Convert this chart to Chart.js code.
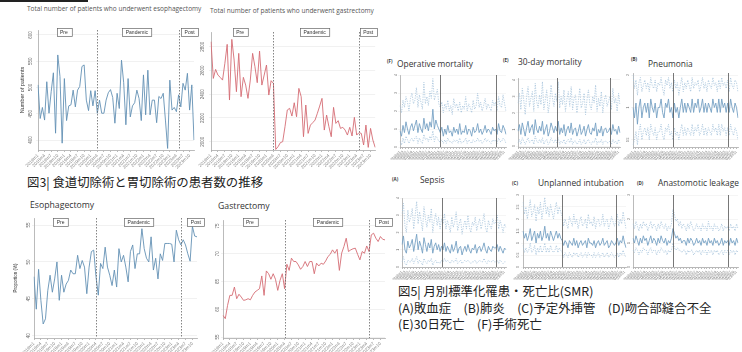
<!DOCTYPE html>
<html><head><meta charset="utf-8">
<script src="https://cdn.jsdelivr.net/npm/chart.js@4.4.1/dist/chart.umd.min.js"></script>
<style>
html,body{margin:0;padding:0;background:#fff;}
body{width:742px;height:352px;position:relative;overflow:hidden;font-family:"Open Sans","Noto Sans",sans-serif;}
.t{position:absolute;white-space:nowrap;color:#444;line-height:1;}
.cap{position:absolute;white-space:nowrap;color:#222;font-family:"Noto Sans CJK JP",sans-serif;}
.pn{position:absolute;}
canvas{display:block;}
</style></head><body>
<div style="position:absolute;left:0;top:0;width:88px;height:2px;background:#222"></div>
<div class="t" style="left:27px;top:6px;font-size:6.5px;color:#555">Total number of patients who underwent esophagectomy</div>
<div class="t" style="left:210px;top:8px;font-size:6.5px;color:#555">Total number of patients who underwent gastrectomy</div>
<div class="cap" style="left:27px;top:174px;font-size:12.4px;line-height:16px">図3| 食道切除術と胃切除術の患者数の推移</div>
<div class="t" style="left:30px;top:201px;font-size:8.7px;color:#333">Esophagectomy</div>
<div class="t" style="left:218px;top:202px;font-size:8.7px;color:#333">Gastrectomy</div>

<div class="t" style="left:387px;top:59px;font-size:4.5px;font-weight:bold;color:#333">(F)</div>
<div class="t" style="left:397px;top:60px;font-size:8.4px;color:#333">Operative mortality</div>
<div class="t" style="left:503px;top:58px;font-size:4.5px;font-weight:bold;color:#333">(E)</div>
<div class="t" style="left:518px;top:58px;font-size:8.4px;color:#333">30-day mortality</div>
<div class="t" style="left:631px;top:57px;font-size:4.5px;font-weight:bold;color:#333">(B)</div>
<div class="t" style="left:648px;top:60px;font-size:8.4px;color:#333">Pneumonia</div>
<div class="t" style="left:392px;top:177px;font-size:4.5px;font-weight:bold;color:#333">(A)</div>
<div class="t" style="left:420px;top:176px;font-size:8.4px;color:#333">Sepsis</div>
<div class="t" style="left:512px;top:181px;font-size:4.5px;font-weight:bold;color:#333">(C)</div>
<div class="t" style="left:538px;top:179px;font-size:8.4px;color:#333">Unplanned intubation</div>
<div class="t" style="left:637px;top:181px;font-size:4.5px;font-weight:bold;color:#333">(D)</div>
<div class="t" style="left:658px;top:179px;font-size:8.4px;color:#333">Anastomotic leakage</div>

<div class="cap" style="left:398px;top:283px;font-size:12.4px;line-height:16.5px">図5| 月別標準化罹患・死亡比(SMR)<br>(A)敗血症　(B)肺炎　(C)予定外挿管　(D)吻合部縫合不全<br>(E)30日死亡　(F)手術死亡</div>

<script>
// Monthly categories, January 2018 to December 2023
const years = [2018, 2019, 2020, 2021, 2022, 2023];
const months = [];
years.forEach(y => { for (let m = 1; m <= 12; m++) months.push(y + 'm' + m); });

// Period boundaries (category index where a new period starts)
const periodStarts = [27, 64];
const periodNames = ['Pre', 'Pandemic', 'Post'];

// Monthly number of patients
const esoCount = [
  505,441,462,438,511,451,492,528,413,562,
  521,394,517,437,465,467,495,463,495,502,
  540,543,476,456,494,465,494,451,476,451,
  451,476,490,496,481,432,489,460,552,509,
  429,517,444,465,471,495,479,437,524,448,
  533,448,476,476,433,483,479,489,438,384,
  514,457,462,454,486,463,508,495,527,457,
  505,400];
const gasCount = [
  2842,2533,2609,2561,2542,2519,2660,2820,2351,2862,
  2688,2421,2744,2379,2542,2477,2365,2519,2744,2632,
  2497,2763,2477,2561,2646,2393,2514,2491,1935,1958,
  1992,2000,2126,2267,2281,2216,2328,2210,2449,2379,
  2042,2309,2070,2140,2160,2182,2239,2300,2365,2098,
  2224,2126,2042,2289,2154,2177,2112,2121,2098,2056,
  2121,2048,2205,2056,2076,2070,1972,2140,1952,2112,
  2014,1952];

// Monthly proportion (%)
const esoProp = [
  48.0,43.6,49.0,44.8,41.6,42.3,46.1,48.2,45.9,47.7,
  50.0,44.8,48.2,45.9,47.0,47.5,48.9,48.4,48.4,50.9,
  49.1,50.2,49.3,45.7,49.3,51.4,51.6,48.0,45.5,49.8,
  49.1,52.0,49.3,48.2,46.8,48.9,46.6,51.8,50.0,50.9,
  49.3,47.3,51.4,52.3,49.1,51.1,51.1,54.5,51.8,50.5,
  50.0,53.4,48.9,50.5,47.7,51.1,50.2,52.5,52.5,52.5,
  52.4,50.0,54.3,53.0,52.3,53.0,52.3,51.1,50.1,54.8,
  53.5,53.4];
const gasProp = [
  58.9,58.3,60.7,62.5,62.5,64.0,61.9,62.7,62.2,61.6,
  61.7,61.9,61.7,62.5,63.1,63.4,63.7,66.0,62.5,66.9,
  66.4,65.4,66.4,65.4,63.4,65.2,66.4,63.7,68.1,67.0,
  69.2,68.6,68.6,68.0,67.2,67.7,68.6,67.7,68.6,68.6,
  66.4,68.3,67.8,68.3,68.1,68.7,69.5,69.9,70.7,70.1,
  70.8,67.0,70.1,71.3,72.8,70.4,70.7,70.9,71.0,69.9,
  68.9,70.4,70.1,71.4,70.4,73.4,73.7,72.8,72.2,73.1,
  72.6,72.5];

// Monthly SMR with upper / lower confidence limits
const opMortHi = [
  2.3,1.9,2.6,2.2,2.8,2.5,2.0,2.7,3.0,
  2.4,2.6,3.3,2.2,2.9,2.5,2.1,3.6,2.4,
  2.8,2.3,3.1,2.7,3.8,2.6,2.9,3.2,2.4,
  2.2,2.5,1.9,2.4,2.1,2.6,2.0,2.3,1.8,
  2.7,2.2,2.4,2.0,2.5,1.9,2.3,2.1,2.8,
  2.0,2.4,2.2,1.9,2.6,2.1,2.3,3.0,2.2,
  2.5,2.0,2.3,2.7,2.1,2.4,2.2,2.0,2.6,
  2.3,2.5,2.0,2.8,2.3,2.2,2.9,2.4,2.0];
const opMort = [
  0.9,0.6,1.2,0.8,1.4,1.0,0.7,1.1,1.3,
  0.9,1.2,1.5,0.8,1.3,1.0,0.8,1.6,1.0,
  1.3,0.9,1.4,1.1,2.1,1.0,1.5,1.2,1.0,
  0.8,1.1,0.6,1.0,0.7,1.2,0.8,0.9,0.6,
  1.1,0.8,1.0,0.7,1.3,0.7,0.9,0.8,1.2,
  0.7,1.0,0.9,0.6,1.1,0.8,0.9,1.3,0.8,
  1.0,0.7,0.9,1.2,0.8,1.0,0.9,0.7,1.1,
  0.9,1.0,0.7,1.3,0.9,0.8,1.2,1.0,0.7];
const opMortLo = [
  0.3,0.1,0.5,0.2,0.6,0.4,0.2,0.4,0.5,
  0.3,0.5,0.6,0.2,0.5,0.3,0.2,0.7,0.4,
  0.5,0.3,0.6,0.4,0.9,0.3,0.6,0.5,0.3,
  0.3,0.4,0.2,0.4,0.2,0.5,0.3,0.3,0.2,
  0.4,0.3,0.4,0.2,0.5,0.2,0.3,0.3,0.5,
  0.2,0.4,0.3,0.2,0.4,0.3,0.3,0.5,0.3,
  0.4,0.2,0.3,0.5,0.3,0.4,0.3,0.2,0.4,
  0.3,0.4,0.2,0.5,0.3,0.3,0.5,0.4,0.2];

const dayMortHi = [
  2.6,3.2,2.2,3.5,2.8,1.9,3.0,3.6,2.4,
  2.9,3.3,2.1,3.8,2.7,2.3,3.1,2.5,3.9,
  2.2,2.8,3.4,2.0,2.6,3.7,2.9,2.4,3.2,
  2.7,3.9,2.3,3.0,2.5,3.4,2.1,2.8,3.3,
  2.4,3.6,2.2,2.9,3.1,2.0,2.7,3.5,2.3,
  2.6,3.2,1.9,2.8,3.4,2.5,2.2,3.0,2.6,
  3.7,2.1,2.9,2.4,3.3,2.0,2.8,3.1,2.4,
  2.7,3.0,2.2,3.5,2.6,2.9,2.1,3.2,2.5];
const dayMort = [
  0.9,1.3,0.7,1.4,1.0,0.6,1.1,1.5,0.8,
  1.1,1.3,0.7,1.6,1.0,0.8,1.2,0.9,1.5,
  0.7,1.0,1.3,0.6,0.9,1.4,1.1,0.8,1.2,
  0.9,1.5,0.7,1.1,0.8,1.3,0.6,1.0,1.2,
  0.8,1.4,0.7,1.0,1.1,0.6,0.9,1.3,0.7,
  0.9,1.2,0.6,1.0,1.3,0.8,0.7,1.1,0.9,
  1.4,0.6,1.0,0.8,1.2,0.6,1.0,1.1,0.8,
  0.9,1.1,0.7,1.3,0.9,1.0,0.7,1.2,0.8];
const dayMortLo = [
  0.2,0.4,0.1,0.5,0.3,0.1,0.3,0.5,0.2,
  0.3,0.4,0.1,0.6,0.3,0.2,0.4,0.2,0.5,
  0.1,0.3,0.4,0.1,0.2,0.5,0.3,0.2,0.4,
  0.2,0.5,0.1,0.3,0.2,0.4,0.1,0.3,0.4,
  0.2,0.5,0.1,0.3,0.3,0.1,0.2,0.4,0.1,
  0.2,0.4,0.1,0.3,0.4,0.2,0.1,0.3,0.2,
  0.5,0.1,0.3,0.2,0.4,0.1,0.3,0.3,0.2,
  0.2,0.3,0.1,0.4,0.2,0.3,0.1,0.4,0.2];

const pneuHi = [
  2.0,1.5,1.8,1.3,1.7,1.9,1.4,1.6,1.8,
  1.5,1.7,1.4,1.9,1.6,1.5,1.8,1.4,1.7,
  1.6,1.9,1.5,1.3,1.8,1.6,1.9,1.5,1.7,
  1.4,1.8,1.5,1.7,1.3,1.6,1.9,1.4,1.7,
  1.5,1.8,1.6,1.4,1.9,1.5,1.7,1.6,1.8,
  1.4,1.6,1.9,1.5,1.7,1.4,1.8,1.6,1.5,
  1.9,1.6,1.7,1.4,1.8,1.5,1.9,1.6,1.7,
  1.5,1.8,1.4,1.9,1.6,1.5,1.8,1.7,1.4];
const pneu = [
  1.0,0.8,1.1,0.7,1.0,1.2,0.8,1.0,1.1,
  0.9,1.1,0.8,1.2,1.0,0.9,1.1,0.8,1.0,
  1.0,1.2,0.9,0.8,1.1,1.0,1.2,0.9,1.0,
  0.8,1.1,0.9,1.0,0.8,1.0,1.2,0.9,1.1,
  0.9,1.1,1.0,0.9,1.2,0.9,1.1,1.0,1.2,
  0.9,1.0,1.2,0.9,1.1,0.9,1.1,1.0,0.9,
  1.2,1.0,1.1,0.9,1.2,0.9,1.2,1.0,1.1,
  0.9,1.1,0.9,1.2,1.0,0.9,1.1,1.0,0.8];
const pneuLo = [
  0.45,0.5,0.6,0.45,0.6,0.7,0.5,0.6,0.65,
  0.55,0.65,0.5,0.7,0.6,0.55,0.65,0.5,0.6,
  0.6,0.7,0.55,0.5,0.65,0.6,0.7,0.55,0.6,
  0.5,0.65,0.55,0.6,0.5,0.6,0.7,0.55,0.65,
  0.55,0.65,0.6,0.55,0.7,0.55,0.65,0.6,0.7,
  0.55,0.6,0.7,0.55,0.65,0.55,0.65,0.6,0.55,
  0.7,0.6,0.65,0.55,0.7,0.55,0.7,0.6,0.65,
  0.55,0.65,0.55,0.7,0.6,0.55,0.65,0.6,0.5];

const sepsisHi = [
  3.1,3.7,2.4,2.0,3.3,2.6,2.9,3.4,2.2,
  3.0,3.8,2.5,3.2,2.7,2.1,3.5,2.8,2.3,
  3.0,2.6,3.4,2.0,2.7,3.1,2.4,2.9,2.2,
  2.8,2.5,3.1,2.2,2.7,2.4,2.0,2.9,2.3,
  2.6,3.2,2.1,2.5,2.8,1.9,2.4,2.7,2.2,
  3.0,2.3,2.0,2.6,2.4,2.9,2.1,2.5,2.8,
  2.2,2.6,3.1,2.3,2.0,2.7,2.4,2.2,2.8,
  2.5,2.6,3.0,2.2,2.7,2.4,2.0,2.5,2.3];
const sepsis = [
  1.3,1.8,1.0,0.8,1.5,1.1,1.3,1.6,0.9,
  1.4,1.9,1.0,1.5,1.2,0.8,1.7,1.3,0.9,
  1.4,1.1,1.6,0.8,1.2,1.4,1.0,1.3,0.9,
  1.2,1.0,1.4,0.9,1.2,1.0,0.8,1.3,0.9,
  1.1,1.5,0.8,1.1,1.2,0.7,1.0,1.2,0.9,
  1.3,1.0,0.8,1.1,1.0,1.3,0.8,1.1,1.2,
  0.9,1.1,1.4,1.0,0.8,1.2,1.0,0.9,1.2,
  1.1,1.1,1.3,0.9,1.2,1.0,0.8,1.1,1.0];
const sepsisLo = [
  0.3,0.6,0.2,0.1,0.4,0.3,0.3,0.5,0.2,
  0.4,0.6,0.2,0.4,0.3,0.1,0.5,0.3,0.2,
  0.4,0.3,0.5,0.1,0.3,0.4,0.2,0.3,0.2,
  0.4,0.3,0.5,0.3,0.4,0.3,0.2,0.4,0.3,
  0.3,0.5,0.2,0.3,0.4,0.2,0.3,0.4,0.3,
  0.4,0.3,0.2,0.3,0.3,0.4,0.2,0.3,0.4,
  0.3,0.3,0.5,0.3,0.2,0.4,0.3,0.3,0.4,
  0.3,0.3,0.4,0.2,0.4,0.3,0.2,0.3,0.3];

const intubHi = [
  2.7,2.2,2.5,2.0,2.4,2.8,2.1,2.3,2.6,
  1.9,2.5,2.2,2.7,2.0,2.4,2.9,2.2,2.5,
  2.1,2.6,2.3,2.0,2.4,2.7,2.2,2.5,2.3,
  2.1,1.7,2.0,1.8,1.6,2.1,1.9,1.7,2.2,
  1.8,2.0,1.6,1.9,2.1,1.7,1.8,2.0,1.6,
  2.2,1.8,1.9,1.7,2.1,1.6,1.9,2.0,1.7,
  1.8,2.2,1.7,1.9,2.0,1.6,1.8,2.1,1.9,
  1.7,1.9,2.2,1.7,2.0,1.8,2.3,1.9,1.6];
const intub = [
  1.5,1.2,1.4,1.1,1.3,1.6,1.1,1.3,1.5,
  1.0,1.4,1.2,1.5,1.1,1.3,1.7,1.2,1.4,
  1.1,1.5,1.3,1.1,1.3,1.5,1.2,1.4,1.2,
  1.1,0.9,1.1,1.0,0.8,1.1,1.0,0.9,1.2,
  0.9,1.1,0.8,1.0,1.1,0.9,1.0,1.1,0.8,
  1.2,1.0,1.0,0.9,1.1,0.8,1.0,1.1,0.9,
  1.0,1.2,0.9,1.0,1.1,0.8,0.9,1.1,1.0,
  0.9,1.0,1.2,0.9,1.1,1.0,1.3,1.0,0.8];
const intubLo = [
  0.9,0.6,0.8,0.6,0.7,1.0,0.6,0.7,0.9,
  0.5,0.8,0.6,0.9,0.6,0.7,1.0,0.6,0.8,
  0.6,0.9,0.7,0.6,0.7,0.9,0.6,0.8,0.7,
  0.6,0.4,0.6,0.5,0.4,0.6,0.5,0.4,0.6,
  0.5,0.6,0.4,0.5,0.6,0.4,0.5,0.6,0.4,
  0.6,0.5,0.5,0.4,0.6,0.4,0.5,0.6,0.4,
  0.5,0.6,0.4,0.5,0.6,0.4,0.5,0.6,0.5,
  0.4,0.5,0.6,0.4,0.6,0.5,0.7,0.5,0.4];

const leakHi = [
  1.8,1.6,1.9,1.7,1.5,1.8,1.6,1.9,1.7,
  1.8,1.5,1.7,1.9,1.6,1.8,1.7,1.5,1.8,
  1.6,1.9,1.7,1.6,1.8,1.5,1.7,1.6,1.8,
  2.4,2.2,1.9,2.0,1.7,1.9,1.6,1.8,1.7,
  1.5,1.8,1.6,1.9,1.7,1.5,1.6,1.8,1.6,
  1.7,1.5,1.8,1.6,1.7,1.5,1.9,1.6,1.7,
  1.5,1.8,1.6,1.7,1.5,1.6,1.8,1.5,1.7,
  1.6,1.7,1.5,1.8,1.6,1.7,1.5,1.8,1.6];
const leak = [
  1.2,1.0,1.3,1.1,0.9,1.2,1.0,1.3,1.1,
  1.2,0.9,1.1,1.3,1.0,1.2,1.1,0.9,1.2,
  1.0,1.3,1.1,1.0,1.2,0.9,1.1,1.0,1.2,
  1.6,1.4,1.2,1.3,1.1,1.2,1.0,1.1,1.1,
  0.9,1.2,1.0,1.2,1.1,0.9,1.0,1.2,1.0,
  1.1,0.9,1.2,1.0,1.1,0.9,1.2,1.0,1.1,
  0.9,1.2,1.0,1.1,0.9,1.0,1.2,0.9,1.1,
  1.0,1.1,0.9,1.2,1.0,1.1,0.9,1.2,1.0];
const leakLo = [
  0.7,0.6,0.8,0.7,0.5,0.7,0.6,0.8,0.7,
  0.7,0.5,0.7,0.8,0.6,0.7,0.7,0.5,0.7,
  0.6,0.8,0.7,0.6,0.7,0.5,0.7,0.6,0.7,
  1.0,0.8,0.7,0.8,0.7,0.7,0.6,0.7,0.7,
  0.5,0.7,0.6,0.7,0.7,0.5,0.6,0.7,0.6,
  0.7,0.5,0.7,0.6,0.7,0.5,0.7,0.6,0.7,
  0.5,0.7,0.6,0.7,0.5,0.6,0.7,0.5,0.7,
  0.6,0.7,0.5,0.7,0.6,0.7,0.5,0.7,0.6];

// Y-axis tick values
const esoCountTicks = [400, 450, 500, 550, 600];
const gasCountTicks = [2000, 2200, 2400, 2600, 2800];
const esoPropTicks = [40, 45, 50, 55];
const gasPropTicks = [55, 60, 65, 70, 75];
const smr4Ticks = [0, 1, 2, 3, 4];
const pneuTicks = [0.5, 1, 2];
const intubTicks = [0, 0.5, 1, 1.5, 2, 2.5, 3];
const leakTicks = [0, 1, 2, 3];

Chart.defaults.font.family = '"Liberation Sans", Arial, sans-serif';

function periodPlugin(o) {
  return {
    id: 'periods',
    afterDatasetsDraw(chart) {
      const ctx = chart.ctx, xs = chart.scales.x, a = chart.chartArea;
      ctx.save();
      ctx.strokeStyle = o.vColor;
      ctx.lineWidth = o.vWidth;
      ctx.setLineDash(o.vDash);
      periodStarts.forEach(i => {
        const px = Math.round(xs.getPixelForValue(i)) + 0.5;
        ctx.beginPath(); ctx.moveTo(px, a.top); ctx.lineTo(px, a.bottom); ctx.stroke();
      });
      ctx.setLineDash([]);
      if (o.boxCenters) {
        ctx.font = '5px "Liberation Sans", Arial, sans-serif';
        periodNames.forEach((name, k) => {
          const cx = xs.getPixelForValue(o.boxCenters[k]);
          const bw = ctx.measureText(name).width + 7, bh = 8;
          const bx = Math.round(cx - bw / 2) + 0.5, by = Math.round(a.top + o.boxDy) + 0.5;
          ctx.fillStyle = '#fff'; ctx.fillRect(bx, by, bw, bh);
          ctx.strokeStyle = '#666'; ctx.lineWidth = 0.7; ctx.strokeRect(bx, by, bw, bh);
          ctx.fillStyle = '#333'; ctx.textAlign = 'center'; ctx.textBaseline = 'middle';
          ctx.fillText(name, cx, by + bh / 2 + 0.3);
        });
      }
      ctx.restore();
    }
  };
}

function makePanel(o) {
  const div = document.createElement('div');
  div.className = 'pn';
  div.style.left = o.x + 'px'; div.style.top = o.y + 'px';
  const cv = document.createElement('canvas');
  cv.width = o.w; cv.height = o.h;
  cv.style.width = o.w + 'px'; cv.style.height = o.h + 'px';
  div.appendChild(cv);
  document.body.appendChild(div);
  const yw = o.left - o.x, xh = o.y + o.h - o.bottom;
  const pt = o.top - o.y, pr = o.x + o.w - o.right;
  new Chart(cv, {
    type: 'line',
    data: { labels: months, datasets: o.datasets },
    options: {
      responsive: false, animation: false, devicePixelRatio: 1,
      layout: { padding: { top: pt, right: pr, left: 0, bottom: 0 } },
      plugins: { legend: { display: false }, tooltip: { enabled: false } },
      elements: { point: { radius: 0 }, line: { tension: 0 } },
      scales: {
        x: {
          type: 'category', offset: false,
          grid: { drawOnChartArea: false, tickLength: 2, lineWidth: 0.8,
                  color: c => (c.index % o.xEvery === 0 ? '#aaa' : 'rgba(0,0,0,0)') },
          border: { color: '#aaa', width: 0.8 },
          ticks: { autoSkip: false, minRotation: 45, maxRotation: 45, padding: 1,
                   font: { size: o.xFont }, color: '#888',
                   callback: (v, i) => (i % o.xEvery === 0 ? months[i] : '') },
          afterFit: s => { s.height = xh; }
        },
        y: {
          type: o.yType || 'linear', min: o.yMin, max: o.yMax,
          afterBuildTicks: s => { s.ticks = o.yTicks.map(v => ({ value: v })); },
          grid: { color: o.gridColor || '#eee', lineWidth: 0.8, tickLength: 2 },
          border: { color: '#aaa', width: 0.8 },
          ticks: { minRotation: 90, maxRotation: 90, crossAlign: 'center', padding: 1,
                   font: { size: o.yFont }, color: '#666', callback: v => String(v) },
          title: { display: !!o.yTitle, text: o.yTitle || '', font: { size: o.yTitleFont || 5.5 },
                   color: '#333', padding: 0 },
          afterFit: s => { s.width = yw; }
        }
      }
    },
    plugins: [periodPlugin(o)]
  });
}

function countLine(values, color) {
  return { data: values, borderColor: color, borderWidth: 0.9, fill: false };
}
function smrSet(hi, mid, lo) {
  const dotted = { borderColor: '#a3c1da', borderWidth: 0.8, borderDash: [1.2, 1.3], fill: false };
  return [
    Object.assign({ data: hi }, dotted),
    { data: mid, borderColor: '#77a2c4', borderWidth: 0.9, fill: false },
    Object.assign({ data: lo }, dotted)
  ];
}

const countStyle = { vColor: '#666', vWidth: 0.8, vDash: [1.5, 1.5], xEvery: 3, xFont: 4.5, yFont: 4.5 };
const smrStyle = { vColor: '#555', vWidth: 0.8, vDash: [], xEvery: 2, xFont: 3.5, yFont: 3.5, gridColor: '#f2f2f2' };

makePanel(Object.assign({ x: 19, y: 20, w: 181, h: 150, left: 38, right: 194, top: 30, bottom: 150,
  yMin: 381, yMax: 609.5, yTicks: esoCountTicks, yTitle: 'Number of patients',
  boxCenters: [11.8, 45, 69], boxDy: -2,
  datasets: [countLine(esoCount, '#6391b4')] }, countStyle));
makePanel(Object.assign({ x: 195, y: 20, w: 185, h: 150, left: 211, right: 376, top: 32, bottom: 150,
  yMin: 1930, yMax: 2924, yTicks: gasCountTicks,
  boxCenters: [12.6, 44.8, 68], boxDy: -4,
  datasets: [countLine(gasCount, '#d56c74')] }, countStyle));
makePanel(Object.assign({ x: 13, y: 205, w: 194, h: 147, left: 34, right: 197, top: 218, bottom: 338,
  yMin: 39.7, yMax: 55.95, yTicks: esoPropTicks, yTitle: 'Proportion (%)', yTitleFont: 4.5,
  boxCenters: [11.6, 45.6, 70.5], boxDy: 0,
  datasets: [countLine(esoProp, '#6391b4')] }, countStyle));
makePanel(Object.assign({ x: 205, y: 205, w: 190, h: 147, left: 223, right: 385, top: 220, bottom: 338,
  yMin: 54.82, yMax: 76.08, yTicks: gasPropTicks,
  boxCenters: [11.8, 46, 70.5], boxDy: -2,
  datasets: [countLine(gasProp, '#d56c74')] }, countStyle));

makePanel(Object.assign({ x: 390, y: 70, w: 120, h: 90, left: 400, right: 507, top: 75, bottom: 147,
  yMin: 0, yMax: 4, yTicks: smr4Ticks, datasets: smrSet(opMortHi, opMort, opMortLo) }, smrStyle));
makePanel(Object.assign({ x: 508, y: 72, w: 116, h: 88, left: 518, right: 621, top: 78, bottom: 147,
  yMin: -0.06, yMax: 4.12, yTicks: smr4Ticks, datasets: smrSet(dayMortHi, dayMort, dayMortLo) }, smrStyle));
makePanel(Object.assign({ x: 622, y: 68, w: 120, h: 92, left: 633, right: 738, top: 73, bottom: 147,
  yType: 'logarithmic', yMin: 0.43, yMax: 2.09, yTicks: pneuTicks, datasets: smrSet(pneuHi, pneu, pneuLo) }, smrStyle));
makePanel(Object.assign({ x: 392, y: 192, w: 118, h: 88, left: 402, right: 506, top: 198, bottom: 267,
  yMin: 0, yMax: 4, yTicks: smr4Ticks, datasets: smrSet(sepsisHi, sepsis, sepsisLo) }, smrStyle));
makePanel(Object.assign({ x: 512, y: 190, w: 118, h: 90, left: 523, right: 627, top: 195, bottom: 267,
  yMin: 0, yMax: 3, yTicks: intubTicks, datasets: smrSet(intubHi, intub, intubLo) }, smrStyle));
makePanel(Object.assign({ x: 622, y: 190, w: 120, h: 90, left: 633, right: 740, top: 195, bottom: 267,
  yMin: 0, yMax: 3, yTicks: leakTicks, datasets: smrSet(leakHi, leak, leakLo) }, smrStyle));
</script>
</body></html>
